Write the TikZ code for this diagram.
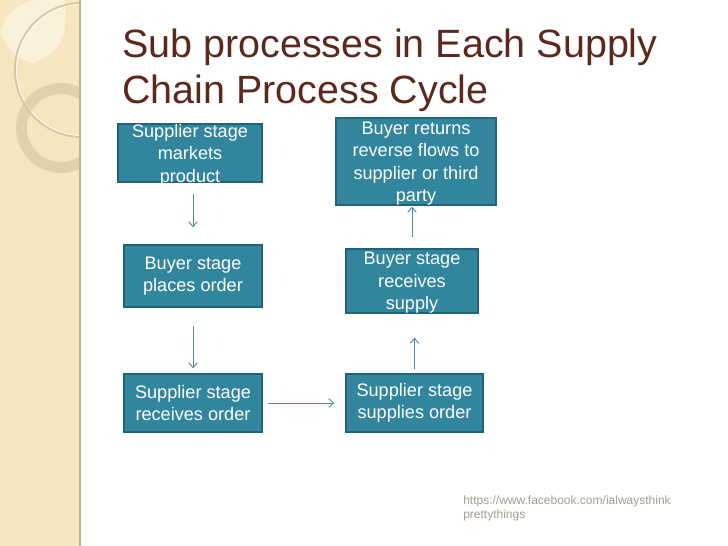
\documentclass[tikz,border=0pt]{standalone}
\usepackage{fontspec}
\setmainfont{Liberation Sans}
\usetikzlibrary{arrows.meta}
\definecolor{strip}{RGB}{246,230,192}
\definecolor{stripedge}{RGB}{196,178,140}
\definecolor{patch}{RGB}{251,241,218}
\definecolor{ring}{RGB}{214,198,160}
\definecolor{titlebrown}{RGB}{92,40,28}
\definecolor{teal}{RGB}{49,133,156}
\definecolor{tealedge}{RGB}{33,98,118}
\definecolor{flowline}{RGB}{72,140,165}
\definecolor{footgray}{RGB}{165,156,142}
\begin{document}
\begin{tikzpicture}[x=0.75pt,y=-0.75pt,
  stagebox/.style={draw=tealedge, line width=1pt, fill=teal, inner sep=0pt},
  stagetext/.style={text=white, align=center, inner sep=0pt, font=\fontsize{13.6}{16.8}\selectfont},
  flow/.style={draw=flowline, line width=0.7pt, -{Straight Barb[length=3.75pt,width=6.5pt]}}]
\useasboundingbox (0,0) rectangle (728,546);
% left strip
\fill[strip] (0,0) rectangle (80,546);
\begin{scope}
\clip (0,0) rectangle (80,546);
\fill[patch] (0,0) -- (65,0) [rounded corners=30pt] -- (65,63) -- (0,63) -- cycle;
\draw[ring, line width=1.5pt] (82,70) circle [radius=67];
\draw[white, line width=0.6pt] (82,70) circle [radius=65.5];
\fill[ring, opacity=0.65, even odd rule] (61,128) circle [radius=45] (61,128) circle [radius=34];
\end{scope}
\draw[stripedge, line width=1.5pt] (80,0) -- (80,546);
% title
\node[anchor=base west, align=left, inner sep=0pt, text=titlebrown, font=\fontsize{29.6}{34.5}\selectfont] (title) at (122,103) {Sub processes in Each Supply\\Chain Process Cycle};
% boxes
\node[stagebox, minimum width=108pt, minimum height=43.5pt] (markets) at (190,153) {};
\node[stagebox, minimum width=120pt, minimum height=65.25pt] (returns) at (416,161.5) {};
\node[stagebox, minimum width=103.5pt, minimum height=46.5pt] (places) at (193,276) {};
\node[stagebox, minimum width=99pt, minimum height=48pt] (supply) at (412,281) {};
\node[stagebox, minimum width=103.5pt, minimum height=43.5pt] (received) at (193,403) {};
\node[stagebox, minimum width=102.75pt, minimum height=43.5pt] (supplies) at (414.5,403) {};
\node[stagetext] (markets-t) at ([yshift=-1.5pt]markets) {Supplier stage\\markets\\product};
\node[stagetext] (returns-t) at ([yshift=-1.5pt]returns) {Buyer returns\\reverse flows to\\supplier or third\\party};
\node[stagetext] (places-t) at (places) {Buyer stage\\places order};
\node[stagetext] (supply-t) at ([yshift=-1.5pt]supply) {Buyer stage\\receives\\supply};
\node[stagetext] (received-t) at (received) {Supplier stage\\receives order};
\node[stagetext] (supplies-t) at (supplies) {Supplier stage\\supplies order};
% arrows
\draw[flow, shorten <=8.25pt, shorten >=12.75pt] (markets.south -| places.north) -- (places.north);
\draw[flow, shorten <=13.5pt, shorten >=3.75pt] (places) -- (received);
\draw[flow, shorten <=3.75pt, shorten >=8.25pt] (received) -- (supplies);
\draw[flow, shorten <=3pt, shorten >=18pt] (supplies.north) -- (supplies.north |- supply.south);
\draw[flow, shorten <=8.25pt, shorten >=0.75pt] (supply.north) -- (supply.north |- returns.south);
% source
\node[anchor=base west, align=left, inner sep=0pt, text=footgray, font=\fontsize{9}{10.5}\selectfont] (source) at (463,518) {https://www.facebook.com/ialwaysthink\\prettythings};
\end{tikzpicture}
\end{document}
